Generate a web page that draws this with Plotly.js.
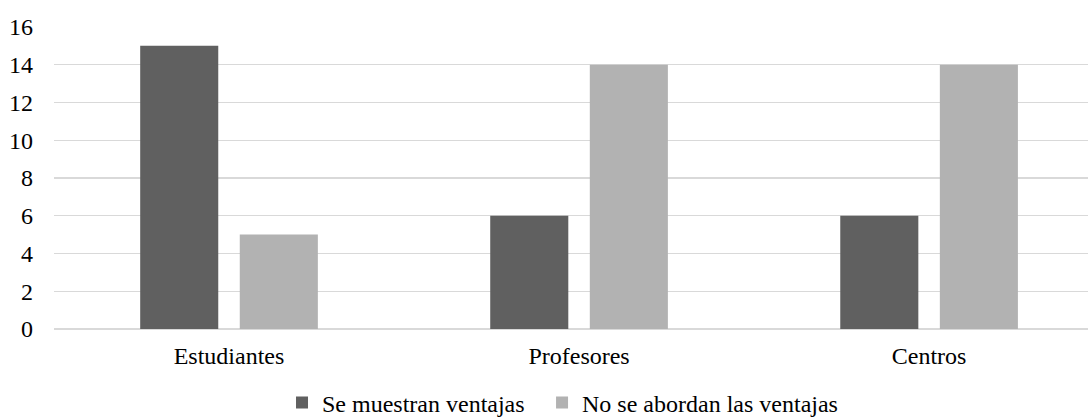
<!DOCTYPE html>
<html>
<head>
<meta charset="utf-8">
<script src="https://cdn.plot.ly/plotly-3.0.1.min.js"></script>
<style>html,body{margin:0;padding:0;background:#fff;}#chart{width:1088px;height:417px;}</style>
</head>
<body>
<div id="chart"></div>
<script>
const categories = ["Estudiantes", "Profesores", "Centros"];
const seriesNames = ["Se muestran ventajas", "No se abordan las ventajas"];
const muestran = [15, 6, 6];
const noAbordan = [5, 14, 14];
const yTicks = [0, 2, 4, 6, 8, 10, 12, 14, 16];

const font = {family: "Times New Roman", size: 24, color: "#000"};

const traces = [
  {type: "bar", x: categories, y: muestran, name: seriesNames[0], marker: {color: "#606060"}, legend: "legend"},
  {type: "bar", x: categories, y: noAbordan, name: seriesNames[1], marker: {color: "#b2b2b2"}, legend: "legend2"}
];

const legendBase = {orientation: "h", xanchor: "left", xref: "container", y: 0.034, yref: "container", yanchor: "middle", font: font, bgcolor: "rgba(0,0,0,0)"};

const layout = {
  width: 1088, height: 417,
  margin: {l: 54, r: 0, t: 26, b: 88, pad: 0},
  paper_bgcolor: "#fff", plot_bgcolor: "#fff",
  font: font,
  barmode: "group",
  bargap: 0.431,
  bargroupgap: 0.216,
  showlegend: true,
  legend: Object.assign({}, legendBase, {x: 0.2592}),
  legend2: Object.assign({}, legendBase, {x: 0.4982}),
  xaxis: {type: "category", range: [-0.5, 2.454], showgrid: false, zeroline: false, showline: false, ticks: "", ticklabelstandoff: 10, tickfont: font, fixedrange: true},
  yaxis: {range: [0, 16.05], tickvals: yTicks, ticktext: yTicks.map(String), showgrid: true, gridcolor: "#d9d9d9", gridwidth: 1.3, zeroline: true, zerolinecolor: "#d9d9d9", zerolinewidth: 1.3, showline: false, ticks: "", ticklabelstandoff: 20, tickfont: font, fixedrange: true}
};

Plotly.newPlot("chart", traces, layout, {staticPlot: true, displayModeBar: false});
</script>
</body>
</html>
